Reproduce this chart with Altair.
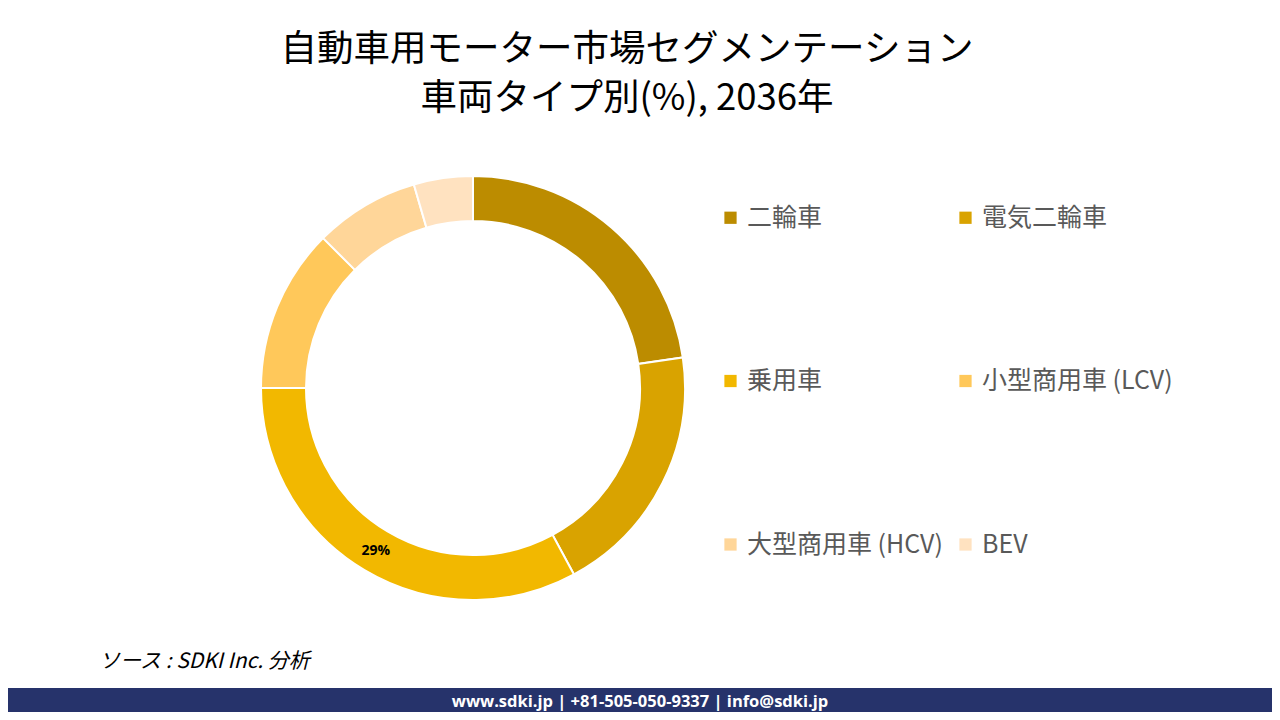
import altair as alt
import pandas as pd

# ---- data ----
categories = ["二輪車", "電気二輪車", "乗用車", "小型商用車 (LCV)", "大型商用車 (HCV)", "BEV"]
shares = [22.7, 19.4, 32.9, 12.5, 8.0, 4.5]
labels = ["", "", "29%", "", "", ""]
colors = ["#BC8C00", "#D9A300", "#F2B800", "#FFC85A", "#FFD699", "#FFE2C0"]

title_lines = ["自動車用モーター市場セグメンテーション", "車両タイプ別(%), 2036年"]
source_text = "ソース : SDKI Inc. 分析"
footer_text = "www.sdki.jp | +81-505-050-9337 | info@sdki.jp"

df = pd.DataFrame({
    "category": categories,
    "share": shares,
    "label": labels,
    "idx": list(range(len(categories))),
})

W, H = 1264, 704
CX, CY = 465, 380

color = alt.Color(
    "category:N",
    scale=alt.Scale(domain=categories, range=colors),
    sort=categories,
    legend=alt.Legend(
        title=None,
        orient="none",
        direction="horizontal",
        legendX=710,
        legendY=197,
        columns=2,
        symbolType="square",
        symbolSize=150,
        symbolStrokeWidth=0,
        labelFont="Noto Sans CJK JP",
        labelFontSize=25,
        labelColor="#595959",
        labelLimit=400,
        labelOffset=4,
        rowPadding=137.5,
        columnPadding=10,
    ),
)

base = alt.Chart(df).encode(
    theta=alt.Theta("share:Q", stack=True),
    order=alt.Order("idx:Q"),
)

arcs = base.mark_arc(
    radius=212, radius2=167, stroke="white", strokeWidth=2
).encode(color=color, x=alt.value(CX), y=alt.value(CY))

arc_text = base.mark_text(
    radius=190, font="Open Sans", fontSize=14, fontWeight="bold", color="black"
).encode(text="label:N", x=alt.value(CX), y=alt.value(CY))

t1 = alt.Chart(pd.DataFrame({"t": [title_lines[0]]})).mark_text(
    font="Noto Sans CJK JP", fontSize=36.5, color="black", align="center", baseline="middle"
).encode(text="t:N", x=alt.value(619), y=alt.value(42))

t2 = alt.Chart(pd.DataFrame({"t": [title_lines[1]]})).mark_text(
    font="Noto Sans CJK JP", fontSize=36.5, color="black", align="center", baseline="middle"
).encode(text="t:N", x=alt.value(619), y=alt.value(91))

src = alt.Chart(pd.DataFrame({"t": [source_text]})).mark_text(
    font="Noto Sans CJK JP", fontSize=21, fontStyle="italic", color="black",
    align="left", baseline="middle"
).encode(text="t:N", x=alt.value(91), y=alt.value(654))

band = alt.Chart(pd.DataFrame({"a": [1]})).mark_rect(color="#26336B").encode(
    x=alt.value(0), x2=alt.value(W), y=alt.value(680), y2=alt.value(H)
)

foot = alt.Chart(pd.DataFrame({"t": [footer_text]})).mark_text(
    font="Open Sans", fontSize=16.5, fontWeight="bold", color="white",
    align="center", baseline="middle"
).encode(text="t:N", x=alt.value(632), y=alt.value(694))

chart = alt.layer(arcs, arc_text, t1, t2, src, band, foot).properties(
    width=W, height=H, autosize="none", padding=0, background="white"
).configure_view(stroke=None)

chart.save("out.html", embed_options={"renderer": "svg", "actions": False})
